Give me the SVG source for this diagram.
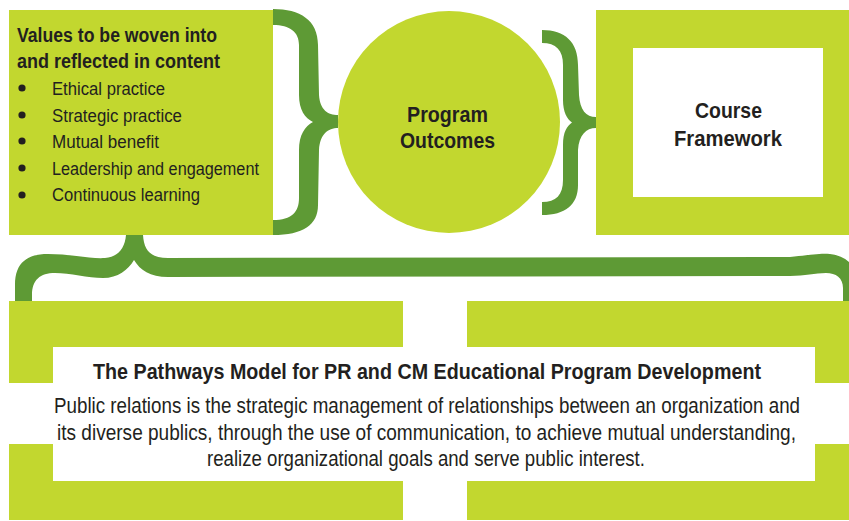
<svg xmlns="http://www.w3.org/2000/svg" width="849" height="521" viewBox="0 0 849 521">
<style>
.lime{fill:#C2D72F}
.brace{fill:#5E9A35}
.white{fill:#FFFFFF}
text{font-family:"Liberation Sans",Arial,sans-serif;fill:#231F20}
.b{font-weight:bold}
.dot{fill:#231F20}
</style>
<rect width="849" height="521" fill="#FFFFFF"/>
<g id="values">
<rect class="lime" x="9" y="10" width="264" height="225"/>
<text class="b" transform="translate(17,42) scale(0.87,1)" font-size="19.5" textLength="229.9" lengthAdjust="spacingAndGlyphs">Values to be woven into</text>
<text class="b" transform="translate(17,68) scale(0.87,1)" font-size="19.5" textLength="233.3" lengthAdjust="spacingAndGlyphs">and reflected in content</text>
<circle class="dot" cx="22" cy="88" r="3.6"/>
<circle class="dot" cx="22" cy="115" r="3.6"/>
<circle class="dot" cx="22" cy="141" r="3.6"/>
<circle class="dot" cx="22" cy="168" r="3.6"/>
<circle class="dot" cx="22" cy="195" r="3.6"/>
<text transform="translate(52,95) scale(0.87,1)" font-size="18.5" textLength="129.9" lengthAdjust="spacingAndGlyphs">Ethical practice</text>
<text transform="translate(52,122) scale(0.87,1)" font-size="18.5" textLength="149.4" lengthAdjust="spacingAndGlyphs">Strategic practice</text>
<text transform="translate(52,148) scale(0.87,1)" font-size="18.5" textLength="123" lengthAdjust="spacingAndGlyphs">Mutual benefit</text>
<text transform="translate(52,175) scale(0.87,1)" font-size="18.5" textLength="237.9" lengthAdjust="spacingAndGlyphs">Leadership and engagement</text>
<text transform="translate(52,201) scale(0.87,1)" font-size="18.5" textLength="170.1" lengthAdjust="spacingAndGlyphs">Continuous learning</text>
</g>
<g id="program-outcomes">
<circle class="lime" cx="449" cy="122" r="111"/>
<text class="b" transform="translate(407,122) scale(0.87,1)" font-size="22" textLength="93.1" lengthAdjust="spacingAndGlyphs">Program</text>
<text class="b" transform="translate(400,148) scale(0.87,1)" font-size="22" textLength="109.2" lengthAdjust="spacingAndGlyphs">Outcomes</text>
</g>
<g id="course-framework">
<rect class="lime" x="596" y="10" width="253" height="225"/>
<rect class="white" x="633" y="48" width="190" height="149"/>
<text class="b" transform="translate(695,118) scale(0.87,1)" font-size="21.5" textLength="77" lengthAdjust="spacingAndGlyphs">Course</text>
<text class="b" transform="translate(674,146) scale(0.87,1)" font-size="21.5" textLength="124.1" lengthAdjust="spacingAndGlyphs">Framework</text>
</g>
<g id="connectors">
<path class="brace" d="M 273 9 C 300 9, 318 20, 318 45 L 319 95 C 320 110, 328 115, 338 115 L 338 128 C 328 128, 320 134, 319 150 L 318 205 C 318 225, 303 235, 273 235 L 273 220 C 292 220, 299 212, 299 198 L 299 150 C 299 135, 305 126, 313 122 C 305 118, 299 110, 299 95 L 299 45 C 299 32, 290 25, 273 25 Z"/>
<path class="brace" d="M 542 30 C 565 30, 578 42, 578 65 L 579 95 C 580 110, 586 117, 596 117 L 596 128 C 586 128, 579 135, 578 150 L 578 185 C 578 205, 565 215, 542 215 L 542 202 C 556 202, 563 195, 563 180 L 563 145 C 563 132, 567 126, 572 122.5 C 567 119, 563 112, 563 100 L 563 65 C 563 50, 556 43, 542 43 Z"/>
<path class="brace" d="M 15 301 L 15 285 C 15 262, 28 254, 48 254 C 70 254, 90 259, 105 258 C 118 257, 125 248, 126 235 L 143 235 C 144 250, 150 258, 168 258 L 790 257 C 810 255, 820 253, 830 254 C 848 256, 858 268, 858 285 L 858 301 L 843 301 L 843 288 C 843 278, 836 273, 826 273 C 815 273, 805 276, 790 276 L 168 277 C 150 277, 140 270, 134 260 C 128 270, 118 278, 103 278 C 88 278, 70 273, 55 273 C 40 273, 32 280, 32 295 L 32 301 Z"/>
</g>
<g id="pathways-model">
<rect class="lime" x="9" y="301" width="394" height="82"/>
<rect class="lime" x="467" y="301" width="382" height="82"/>
<rect class="lime" x="9" y="444" width="394" height="76"/>
<rect class="lime" x="467" y="444" width="382" height="76"/>
<rect class="white" x="53" y="347" width="762" height="134"/>
<text class="b" transform="translate(93,379) scale(0.87,1)" font-size="22.5" textLength="767.8" lengthAdjust="spacingAndGlyphs">The Pathways Model for PR and CM Educational Program Development</text>
<text transform="translate(54,413) scale(0.87,1)" font-size="21.5" textLength="857.5" lengthAdjust="spacingAndGlyphs">Public relations is the strategic management of relationships between an organization and</text>
<text transform="translate(57,440) scale(0.87,1)" font-size="21.5" textLength="849.4" lengthAdjust="spacingAndGlyphs">its diverse publics, through the use of communication, to achieve mutual understanding,</text>
<text transform="translate(207,466) scale(0.87,1)" font-size="21.5" textLength="503.4" lengthAdjust="spacingAndGlyphs">realize organizational goals and serve public interest.</text>
</g>
</svg>
